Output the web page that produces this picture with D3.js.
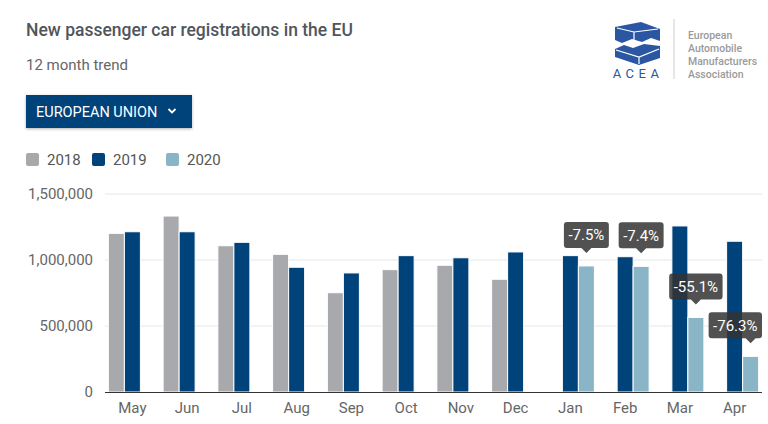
<!DOCTYPE html>
<html>
<head>
<meta charset="utf-8">
<script src="https://cdn.jsdelivr.net/npm/d3@7"></script>
<style>
  body { margin: 0; background: #fff; font-family: Roboto, "Noto Sans", sans-serif; }
</style>
</head>
<body>
<div id="chart"></div>
<script>
// chart data
const months = ["May", "Jun", "Jul", "Aug", "Sep", "Oct", "Nov", "Dec", "Jan", "Feb", "Mar", "Apr"];
const reg2018 = [1202000, 1333000, 1108000, 1043000, 752000, 927000, 960000, 854000, null, null, null, null];
const reg2019 = [1214000, 1214000, 1134000, 945000, 902000, 1033000, 1017000, 1061000, 1033000, 1025000, 1258000, 1142000];
const reg2020 = [null, null, null, null, null, null, null, null, 955000, 952000, 565000, 270000];
const changes = [null, null, null, null, null, null, null, null, "-7.5%", "-7.4%", "-55.1%", "-76.3%"];
const years = ["2018", "2019", "2020"];
const yTicks = [0, 500000, 1000000, 1500000];
const orgLines = ["European", "Automobile", "Manufacturers", "Association"];

const colors = ["#a7a9ac", "#00427a", "#8ab5c6"];
const W = 768, H = 424;

const svg = d3.select("#chart").append("svg")
    .attr("width", W)
    .attr("height", H)
    .style("font-family", "Roboto, sans-serif");

// title + subtitle
svg.append("text")
    .attr("x", 26).attr("y", 36)
    .attr("font-size", 17.5).attr("font-weight", 500)
    .attr("fill", "#50565c")
    .text("New passenger car registrations in the EU");

svg.append("text")
    .attr("x", 26).attr("y", 70)
    .attr("font-size", 15)
    .attr("fill", "#666")
    .text("12 month trend");

// dropdown button
let defs = svg.append("defs");
let shadow = defs.append("filter").attr("id", "shadow")
    .attr("x", "-10%").attr("y", "-20%").attr("width", "120%").attr("height", "150%");
shadow.append("feDropShadow")
    .attr("dx", 0).attr("dy", 1).attr("stdDeviation", 1.5)
    .attr("flood-color", "#000").attr("flood-opacity", 0.3);

svg.append("rect")
    .attr("x", 26).attr("y", 95).attr("width", 166).attr("height", 33)
    .attr("fill", "#00427a")
    .attr("filter", "url(#shadow)");

svg.append("text")
    .attr("x", 36).attr("y", 116.5)
    .attr("font-size", 14.5)
    .attr("fill", "#fff")
    .text("EUROPEAN UNION");

svg.append("path")
    .attr("d", "M168.5,109 L172,112.5 L175.5,109")
    .attr("fill", "none").attr("stroke", "#fff").attr("stroke-width", 1.8);

// legend
let legend = svg.append("g");
let legendX = [26, 92, 166];
years.forEach((y, i) => {
    legend.append("rect")
        .attr("x", legendX[i]).attr("y", 153)
        .attr("width", 13).attr("height", 13).attr("rx", 2)
        .attr("fill", colors[i]);
    legend.append("text")
        .attr("x", legendX[i] + 21).attr("y", 165)
        .attr("font-size", 15)
        .attr("fill", "#555")
        .text(y);
});

// logo
let logo = svg.append("g");
logo.append("path")
    .attr("d", "M615,27 L641,22 L660,29 L660,41 L651,38 L642,42 L632,39 L622,43 L615,40 Z")
    .attr("fill", "#2b57a2");
logo.append("path")
    .attr("d", "M617,28 L634,32 L658,29 M634,32 L634,40")
    .attr("fill", "none").attr("stroke", "#fff").attr("stroke-width", 1.2);
logo.append("path")
    .attr("d", "M615,49 L624,45 L633,48 L644,44 L660,46 L660,58 L639,65 L615,57 Z")
    .attr("fill", "#2b57a2");
logo.append("path")
    .attr("d", "M616,50 L639,57 L659,49 M639,57 L639,64")
    .attr("fill", "none").attr("stroke", "#fff").attr("stroke-width", 1.2);
logo.append("text")
    .attr("x", 638).attr("y", 77.5)
    .attr("text-anchor", "middle")
    .attr("font-size", 13)
    .attr("letter-spacing", 4.5)
    .attr("fill", "#2b57a2")
    .text("ACEA");
logo.append("line")
    .attr("x1", 674).attr("x2", 674).attr("y1", 19).attr("y2", 79)
    .attr("stroke", "#ccc");
orgLines.forEach((t, i) => {
    logo.append("text")
        .attr("x", 688).attr("y", 39 + i * 13)
        .attr("font-size", 10.5).attr("font-weight", 500)
        .attr("fill", "#9a9a9a")
        .text(t);
});

// scales
const x = d3.scaleBand()
    .domain(months)
    .range([105, 762])
    .paddingInner(0.123)
    .paddingOuter(0.0615);

const xSub = d3.scaleBand()
    .domain(years)
    .range([0, x.bandwidth()]);

const y = d3.scaleLinear()
    .domain([0, 1500000])
    .range([392, 194]);

// grid
svg.append("g")
    .selectAll("line")
    .data(yTicks.slice(1))
    .join("line")
    .attr("x1", 105).attr("x2", 762)
    .attr("y1", d => y(d)).attr("y2", d => y(d))
    .attr("stroke", "#e6e6e6");

// y axis
let yAxis = svg.append("g")
    .attr("transform", "translate(105,0)")
    .call(d3.axisLeft(y).tickValues(yTicks).tickSize(0).tickPadding(12).tickFormat(d3.format(",")));
yAxis.select(".domain").remove();
yAxis.selectAll("text")
    .attr("font-size", 15)
    .attr("font-family", "Roboto, sans-serif")
    .attr("fill", "#666");

// bars
const series = [reg2018, reg2019, reg2020];
let bars = svg.append("g");
series.forEach((vals, s) => {
    bars.selectAll(".bar" + s)
        .data(months.map((m, i) => ({ m, v: vals[i] })).filter(d => d.v != null))
        .join("rect")
        .attr("x", d => x(d.m) + xSub(years[s]))
        .attr("y", d => y(d.v))
        .attr("width", xSub.bandwidth())
        .attr("height", d => y(0) - y(d.v))
        .attr("fill", colors[s])
        .attr("stroke", "#fff")
        .attr("stroke-width", 1);
});

// x axis
let xAxis = svg.append("g")
    .attr("transform", "translate(0,392)")
    .call(d3.axisBottom(x).tickSize(0).tickPadding(10));
xAxis.select(".domain").attr("stroke", "#333").attr("d", "M105,0.5H762");
xAxis.selectAll("text")
    .attr("font-size", 15)
    .attr("font-family", "Roboto, sans-serif")
    .attr("fill", "#666");

// change labels over 2020 bars
let tips = svg.append("g");
months.forEach((m, i) => {
    if (!changes[i]) return;
    let cx = x(m) + xSub("2020") + xSub.bandwidth() / 2;
    let tipY = y(reg2020[i]) - 13;
    let g = tips.append("g");
    let txt = g.append("text")
        .attr("font-size", 15)
        .attr("fill", "#fff")
        .attr("text-anchor", "middle")
        .text(changes[i]);
    let tw = txt.node().getComputedTextLength();
    let bw = tw + 9, bh = 26;
    let bx = cx - bw / 2;
    if (bx + bw > 762) bx = 762 - bw;
    let by = tipY - 5 - bh;
    g.insert("path", "text")
        .attr("d", `M${bx + 3},${by} H${bx + bw - 3} Q${bx + bw},${by} ${bx + bw},${by + 3} V${by + bh - 3} Q${bx + bw},${by + bh} ${bx + bw - 3},${by + bh} H${cx + 5} L${cx},${tipY} L${cx - 5},${by + bh} H${bx + 3} Q${bx},${by + bh} ${bx},${by + bh - 3} V${by + 3} Q${bx},${by} ${bx + 3},${by} Z`)
        .attr("fill", "rgba(50,50,50,0.85)");
    txt.attr("x", bx + bw / 2).attr("y", by + 18.5);
});
</script>
</body>
</html>
